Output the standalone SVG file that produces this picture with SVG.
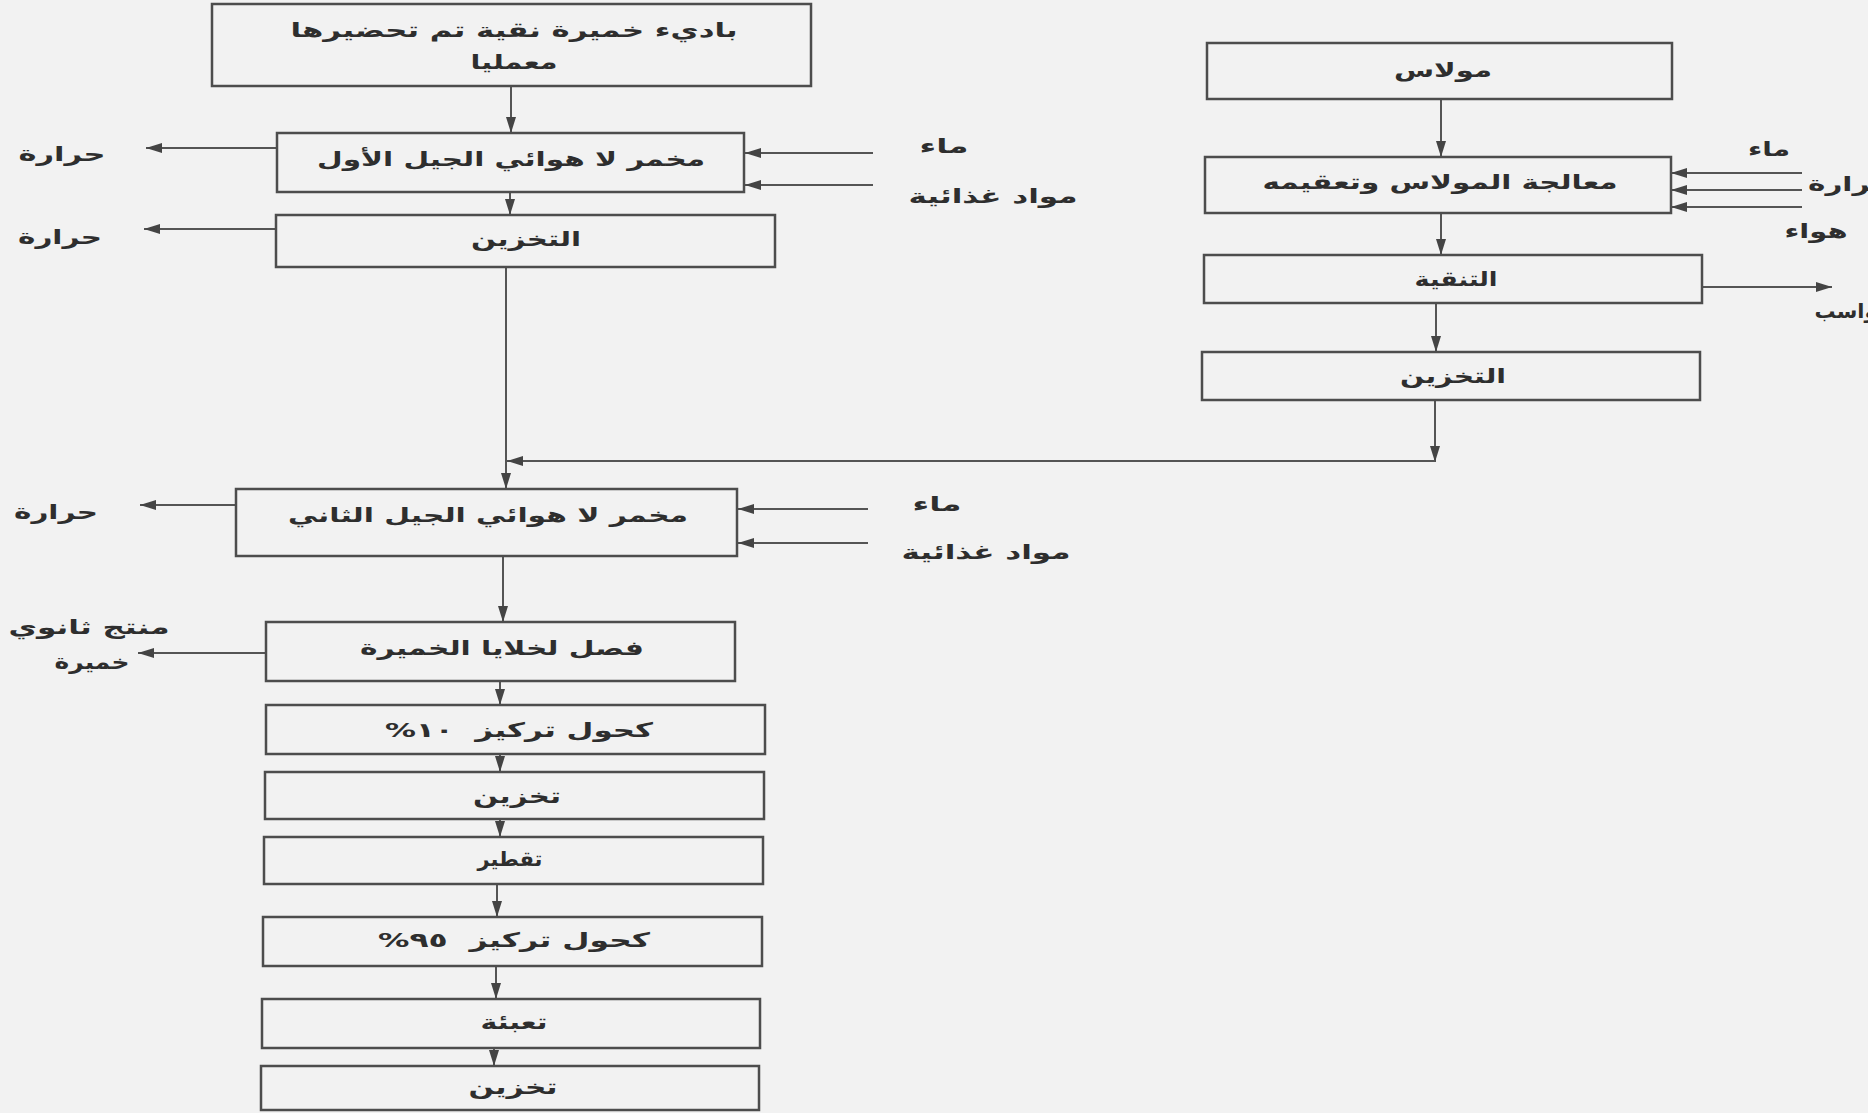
<svg xmlns="http://www.w3.org/2000/svg" width="1868" height="1113" viewBox="0 0 1868 1113">
<style>
.box{fill:none;stroke:#4d4d4d;stroke-width:2.5}
.ln{fill:none;stroke:#555;stroke-width:2}
.ar{marker-end:url(#ah)}
text{font-family:"DejaVu Sans",sans-serif;font-size:20px;font-weight:bold;fill:#2e2e2e;text-anchor:middle;direction:rtl}
</style>
<defs>
<marker id="ah" markerUnits="userSpaceOnUse" markerWidth="16" markerHeight="10" refX="16" refY="5" orient="auto">
<path d="M0,0 L16,5 L0,10 z" fill="#444"/>
</marker>
</defs>
<rect width="1868" height="1113" fill="#f2f2f2"/>

<g id="connectors">
<line class="ln ar" x1="511" y1="86" x2="511" y2="133"/>
<line class="ln ar" x1="277" y1="148" x2="146" y2="148"/>
<line class="ln ar" x1="873" y1="153" x2="745" y2="153"/>
<line class="ln ar" x1="873" y1="185" x2="745" y2="185"/>
<line class="ln ar" x1="510" y1="192" x2="510" y2="215"/>
<line class="ln ar" x1="276" y1="229" x2="144" y2="229"/>
<line class="ln ar" x1="506" y1="267" x2="506" y2="489"/>
<line class="ln ar" x1="1435" y1="400" x2="1435" y2="462"/>
<line class="ln ar" x1="1435" y1="461" x2="507" y2="461"/>
<line class="ln ar" x1="236" y1="505" x2="140" y2="505"/>
<line class="ln ar" x1="868" y1="509" x2="738" y2="509"/>
<line class="ln ar" x1="868" y1="543" x2="738" y2="543"/>
<line class="ln ar" x1="503" y1="556" x2="503" y2="622"/>
<line class="ln ar" x1="266" y1="653" x2="138" y2="653"/>
<line class="ln ar" x1="500" y1="681" x2="500" y2="705"/>
<line class="ln ar" x1="500" y1="754" x2="500" y2="772"/>
<line class="ln ar" x1="500" y1="819" x2="500" y2="837"/>
<line class="ln ar" x1="497" y1="884" x2="497" y2="917"/>
<line class="ln ar" x1="496" y1="966" x2="496" y2="999"/>
<line class="ln ar" x1="494" y1="1048" x2="494" y2="1066"/>
<line class="ln ar" x1="1441" y1="99" x2="1441" y2="157"/>
<line class="ln ar" x1="1802" y1="173" x2="1671" y2="173"/>
<line class="ln ar" x1="1802" y1="190" x2="1671" y2="190"/>
<line class="ln ar" x1="1802" y1="207" x2="1671" y2="207"/>
<line class="ln ar" x1="1441" y1="213" x2="1441" y2="255"/>
<line class="ln ar" x1="1702" y1="287" x2="1832" y2="287"/>
<line class="ln ar" x1="1436" y1="303" x2="1436" y2="352"/>
</g>

<g id="n-starter"><rect class="box" x="212" y="4" width="599" height="82"/>
<text x="514" y="37" textLength="447" lengthAdjust="spacingAndGlyphs">باديء خميرة نقية تم تحضيرها</text>
<text x="514" y="69" textLength="87" lengthAdjust="spacingAndGlyphs">معمليا</text></g>

<g id="n-ferm1"><rect class="box" x="277" y="133" width="467" height="59"/>
<text x="511" y="166" textLength="388" lengthAdjust="spacingAndGlyphs">مخمر لا هوائي الجيل الأول</text></g>

<g id="n-store1"><rect class="box" x="276" y="215" width="499" height="52"/>
<text x="526" y="246" textLength="110" lengthAdjust="spacingAndGlyphs">التخزين</text></g>

<g id="n-ferm2"><rect class="box" x="236" y="489" width="501" height="67"/>
<text x="488" y="522" textLength="400" lengthAdjust="spacingAndGlyphs">مخمر لا هوائي الجيل الثاني</text></g>

<g id="n-sep"><rect class="box" x="266" y="622" width="469" height="59"/>
<text x="502" y="655" textLength="284" lengthAdjust="spacingAndGlyphs">فصل لخلايا الخميرة</text></g>

<g id="n-alc10"><rect class="box" x="266" y="705" width="499" height="49"/>
<text x="519" y="737" textLength="268" lengthAdjust="spacingAndGlyphs" xml:space="preserve">كحول تركيز  ١٠%</text></g>

<g id="n-store2"><rect class="box" x="265" y="772" width="499" height="47"/>
<text x="517" y="803" textLength="88" lengthAdjust="spacingAndGlyphs">تخزين</text></g>

<g id="n-distil"><rect class="box" x="264" y="837" width="499" height="47"/>
<text x="510" y="866" textLength="65" lengthAdjust="spacingAndGlyphs">تقطير</text></g>

<g id="n-alc95"><rect class="box" x="263" y="917" width="499" height="49"/>
<text x="514" y="947" textLength="272" lengthAdjust="spacingAndGlyphs" xml:space="preserve">كحول تركيز  ٩٥%</text></g>

<g id="n-fill"><rect class="box" x="262" y="999" width="498" height="49"/>
<text x="514" y="1029" textLength="67" lengthAdjust="spacingAndGlyphs">تعبئة</text></g>

<g id="n-store3"><rect class="box" x="261" y="1066" width="498" height="44"/>
<text x="513" y="1094" textLength="89" lengthAdjust="spacingAndGlyphs">تخزين</text></g>

<g id="n-molasses"><rect class="box" x="1207" y="43" width="465" height="56"/>
<text x="1443" y="77" textLength="98" lengthAdjust="spacingAndGlyphs">مولاس</text></g>

<g id="n-treat"><rect class="box" x="1205" y="157" width="466" height="56"/>
<text x="1440" y="189" textLength="355" lengthAdjust="spacingAndGlyphs">معالجة المولاس وتعقيمه</text></g>

<g id="n-clarify"><rect class="box" x="1204" y="255" width="498" height="48"/>
<text x="1456" y="286" textLength="83" lengthAdjust="spacingAndGlyphs">التنقية</text></g>

<g id="n-store-r"><rect class="box" x="1202" y="352" width="498" height="48"/>
<text x="1453" y="383" textLength="106" lengthAdjust="spacingAndGlyphs">التخزين</text></g>

<g id="labels">
<text x="62" y="161" textLength="87" lengthAdjust="spacingAndGlyphs">حرارة</text>
<text x="944" y="153" textLength="49" lengthAdjust="spacingAndGlyphs">ماء</text>
<text x="993" y="203" textLength="169" lengthAdjust="spacingAndGlyphs">مواد غذائية</text>
<text x="60" y="244" textLength="84" lengthAdjust="spacingAndGlyphs">حرارة</text>
<text x="56" y="519" textLength="84" lengthAdjust="spacingAndGlyphs">حرارة</text>
<text x="937" y="511" textLength="49" lengthAdjust="spacingAndGlyphs">ماء</text>
<text x="986" y="559" textLength="169" lengthAdjust="spacingAndGlyphs">مواد غذائية</text>
<text x="89" y="634" textLength="161" lengthAdjust="spacingAndGlyphs">منتج ثانوي</text>
<text x="92" y="669" textLength="75" lengthAdjust="spacingAndGlyphs">خميرة</text>
<text x="1769" y="156" textLength="42" lengthAdjust="spacingAndGlyphs">ماء</text>
<text x="1850" y="191" textLength="84" lengthAdjust="spacingAndGlyphs">حرارة</text>
<text x="1816" y="238" textLength="63" lengthAdjust="spacingAndGlyphs">هواء</text>
<text x="1852" y="318" textLength="75" lengthAdjust="spacingAndGlyphs">رواسب</text>
</g>
</svg>
